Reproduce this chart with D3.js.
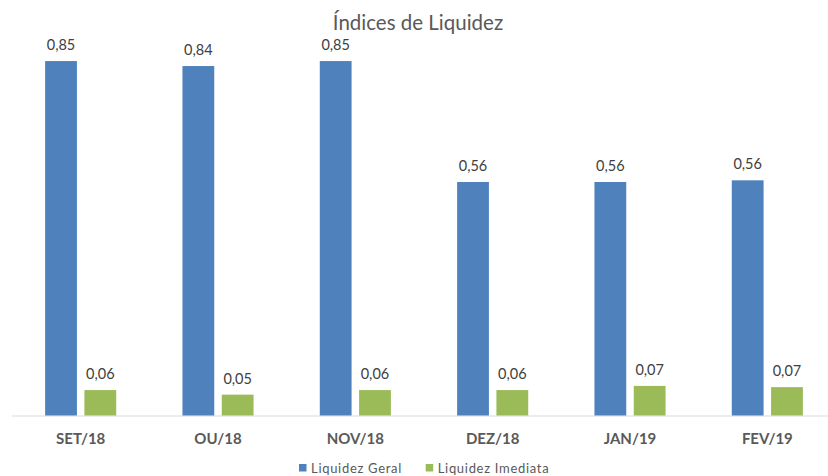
<!DOCTYPE html>
<html><head><meta charset="utf-8">
<script src="https://cdn.jsdelivr.net/npm/d3@7"></script>
<style>
html,body{margin:0;padding:0;background:#fff;}
svg{display:block;font-family:Lato, "Open Sans", sans-serif;}
</style></head>
<body><svg id="c" width="828" height="476"></svg>
<script>
const categories = ["SET/18","OU/18","NOV/18","DEZ/18","JAN/19","FEV/19"];
const seriesNames = ["Liquidez Geral","Liquidez Imediata"];
const liquidezGeral = [0.850, 0.838, 0.850, 0.560, 0.560, 0.564];
const liquidezImediata = [0.061, 0.050, 0.061, 0.061, 0.071, 0.068];
const colors = ["#4F81BD","#9BBB59"];

const svg = d3.select("#c");
const W = 828, H = 476;
const m = {left:12, right:-8, top:0, base:415.5};

const x0 = d3.scaleBand().domain(categories).range([m.left, W - m.right]).paddingInner(0).paddingOuter(0);
const y = d3.scaleLinear().domain([0, 1]).range([m.base, m.base - 417]);

const barW = 31.8, gap = 7.5;
const x1 = d3.scaleOrdinal().domain(seriesNames).range([-(barW + gap/2), gap/2]);

const data = [liquidezGeral, liquidezImediata];
const fmt = v => v.toFixed(2).replace(".", ",");

// axis line
svg.append("line").attr("x1", m.left).attr("x2", W).attr("y1", m.base + 0.5).attr("y2", m.base + 0.5)
  .attr("stroke", "#D9D9D9").attr("stroke-width", 1);

seriesNames.forEach((s, si) => {
  const g = svg.append("g");
  g.selectAll("rect").data(data[si]).join("rect")
    .attr("x", (d, i) => x0(categories[i]) + x0.bandwidth()/2 + x1(s))
    .attr("y", d => y(d))
    .attr("width", barW)
    .attr("height", d => y(0) - y(d))
    .attr("fill", colors[si]);
  g.selectAll("text").data(data[si]).join("text")
    .attr("x", (d, i) => x0(categories[i]) + x0.bandwidth()/2 + x1(s) + barW/2)
    .attr("y", d => y(d) - 11)
    .attr("text-anchor", "middle")
    .attr("font-size", 14.5)
    .attr("fill", "#404040")
    .text(d => fmt(d));
});

// category labels
const xAxis = d3.axisBottom(x0).tickSize(0).tickPadding(0);
const ax = svg.append("g").attr("transform", `translate(0,${m.base})`).call(xAxis);
ax.select(".domain").remove();
ax.selectAll("text").attr("y", 28).attr("dy", 0)
  .attr("font-size", 15).attr("font-weight", "bold").attr("fill", "#595959")
  .attr("font-family", "Lato, sans-serif");

// title
svg.append("text").attr("x", 418).attr("y", 30).attr("text-anchor", "middle")
  .attr("font-size", 20.5).attr("fill", "#595959").text("Índices de Liquidez");

// legend
const legX = [299, 425.7];
seriesNames.forEach((s, i) => {
  svg.append("rect").attr("x", legX[i]).attr("y", 464).attr("width", 7.5).attr("height", 7.5).attr("fill", colors[i]);
  svg.append("text").attr("x", legX[i] + 12).attr("y", 472.5).attr("font-size", 13)
    .attr("letter-spacing", 0.7).attr("fill", "#595959").text(s);
});
</script></body></html>
